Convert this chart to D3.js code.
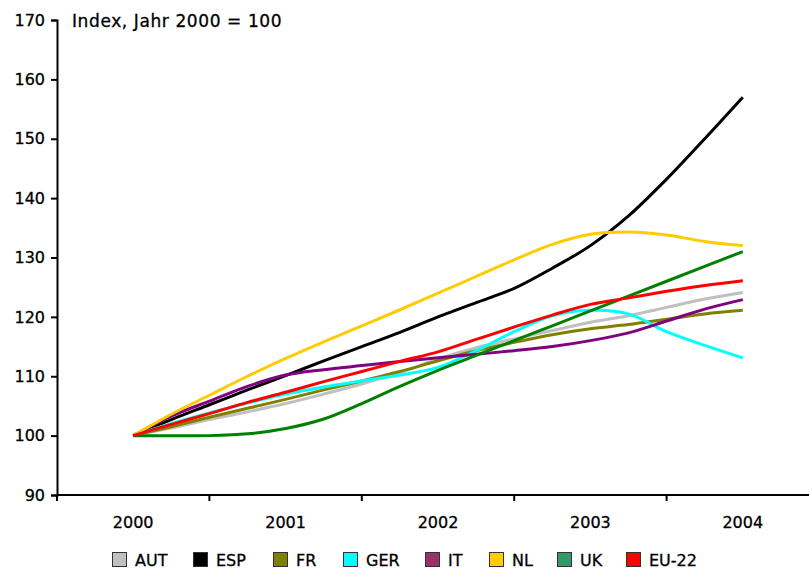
<!DOCTYPE html>
<html>
<head>
<meta charset="utf-8">
<script src="https://cdn.jsdelivr.net/npm/d3@7"></script>
<style>
  body { margin: 0; background: #fff; }
  text { font-family: "DejaVu Sans", Verdana, sans-serif; fill: #000; stroke: #000; stroke-width: 0.3px; }
</style>
</head>
<body>
<div id="chart"></div>
<script>
const width = 809,
      height = 570

// years on the axis, and the quarterly points the lines go through
const years = ["2000", "2001", "2002", "2003", "2004"]
const periods = [2000, 2000.25, 2000.5, 2000.75, 2001, 2001.25, 2001.5, 2001.75,
                 2002, 2002.25, 2002.5, 2002.75, 2003, 2003.25, 2003.5, 2003.75, 2004]

const AUT  = [100, 101.3, 102.7, 104, 105.4, 107, 108.7, 110.6, 112.9, 114.8, 116.3, 117.7, 119.1, 120.2, 121.6, 123, 124.1]
const ESP  = [100, 102.7, 105.2, 107.7, 110.1, 112.6, 115, 117.4, 120, 122.4, 124.8, 128.2, 132, 137, 143.2, 150, 157]
const FR   = [100, 101.5, 103.1, 104.6, 106.1, 107.7, 109.2, 110.8, 112.6, 114.3, 115.7, 117, 118, 118.7, 119.6, 120.5, 121.1]
const GER  = [100, 102, 103.8, 105.5, 107, 108.2, 109.2, 110.2, 111.5, 114.3, 117.5, 120.2, 121.1, 120.5, 117.5, 115.2, 113.1]
const IT   = [100, 103.3, 105.8, 108.3, 110.2, 111.1, 111.8, 112.5, 113.1, 113.7, 114.3, 115, 116, 117.3, 119.3, 121.3, 122.9]
const NL   = [100, 103.6, 106.8, 110, 113, 115.8, 118.5, 121.2, 124, 126.8, 129.6, 132.2, 133.9, 134.3, 133.8, 132.7, 132]
const UK   = [100, 100, 100, 100.3, 101.2, 102.8, 105.4, 108.3, 111, 113.5, 116, 118.5, 121, 123.5, 126, 128.5, 131]
const EU22 = [100, 101.9, 103.7, 105.6, 107.3, 109.1, 110.8, 112.5, 114.1, 116.2, 118.3, 120.3, 122.1, 123.2, 124.3, 125.3, 126.1]

const names = ["AUT", "ESP", "FR", "GER", "IT", "NL", "UK", "EU-22"]
const seriesValues = [AUT, ESP, FR, GER, IT, NL, UK, EU22]
const lineColors = ["#c0c0c0", "#000000", "#808000", "#00ffff", "#800080", "#ffcc00", "#008000", "#ff0000"]
const swatchColors = ["#c0c0c0", "#000000", "#808000", "#00ffff", "#993366", "#ffcc00", "#339966", "#ff0000"]
const yTicks = [90, 100, 110, 120, 130, 140, 150, 160, 170]

const series = names.map((n, i) => ({
    name: n,
    line: lineColors[i],
    swatch: swatchColors[i],
    values: periods.map((p, j) => ({t: p, v: seriesValues[i][j]}))
}))

let svg = d3.select("#chart").append("svg")
    .attr("width", width)
    .attr("height", height)

let plotLeft = 57, plotRight = 819, plotTop = 20, plotBottom = 495

let xBand = d3.scaleBand()
    .domain(years)
    .range([plotLeft, plotRight])

let x = d3.scaleLinear()
    .domain([2000, 2004])
    .range([xBand("2000") + xBand.bandwidth() / 2, xBand("2004") + xBand.bandwidth() / 2])

let y = d3.scaleLinear()
    .domain([90, 170])
    .range([plotBottom, plotTop])

// y axis
let yAxis = svg.append("g")
    .attr("transform", `translate(${plotLeft},0)`)
    .call(d3.axisLeft(y).tickValues(yTicks).tickSize(6).tickPadding(6))
yAxis.select(".domain").attr("stroke", "#000").attr("stroke-width", 2)
yAxis.selectAll(".tick line").attr("stroke", "#000").attr("stroke-width", 2)
yAxis.selectAll(".tick text")
    .attr("font-size", 16)
    .attr("font-family", "DejaVu Sans, Verdana, sans-serif")

// x axis: ticks sit between the year categories
let xAxis = svg.append("g")
    .attr("transform", `translate(0,${plotBottom})`)
xAxis.append("line")
    .attr("x1", plotLeft).attr("x2", plotRight)
    .attr("stroke", "#000").attr("stroke-width", 2)
xAxis.selectAll("line.tk")
    .data(years)
    .join("line")
    .attr("class", "tk")
    .attr("x1", d => xBand(d)).attr("x2", d => xBand(d))
    .attr("y1", 0).attr("y2", 6)
    .attr("stroke", "#000").attr("stroke-width", 2)
xAxis.selectAll("text")
    .data(years)
    .join("text")
    .attr("x", d => xBand(d) + xBand.bandwidth() / 2)
    .attr("y", 33)
    .attr("text-anchor", "middle")
    .attr("font-size", 16)
    .text(d => d)

// title in the top left corner
svg.append("text")
    .attr("x", 72)
    .attr("y", 27)
    .attr("font-size", 17)
    .attr("letter-spacing", 0.6)
    .text("Index, Jahr 2000 = 100")

const lineGen = d3.line()
      .x(d => x(d.t))
      .y(d => y(d.v))
      .curve(d3.curveCatmullRom.alpha(0.5))

svg.append("g")
    .selectAll("path")
    .data(series)
    .join("path")
    .attr("d", d => lineGen(d.values))
    .attr("fill", "none")
    .attr("stroke", d => d.line)
    .attr("stroke-width", 3)
    .attr("stroke-linejoin", "round")

// legend along the bottom
const legendX = [112, 193, 273, 343, 425, 489, 557, 626]
let legend = svg.append("g")
let items = legend.selectAll("g")
    .data(series)
    .join("g")
    .attr("transform", (d, i) => `translate(${legendX[i]},552)`)
items.append("rect")
    .attr("x", 0.5).attr("y", 0.5)
    .attr("width", 14).attr("height", 14)
    .attr("fill", d => d.swatch)
    .attr("stroke", "#333")
    .attr("stroke-width", 1)
items.append("text")
    .attr("x", 23)
    .attr("y", 14)
    .attr("font-size", 16)
    .text(d => d.name)
</script>
</body>
</html>
